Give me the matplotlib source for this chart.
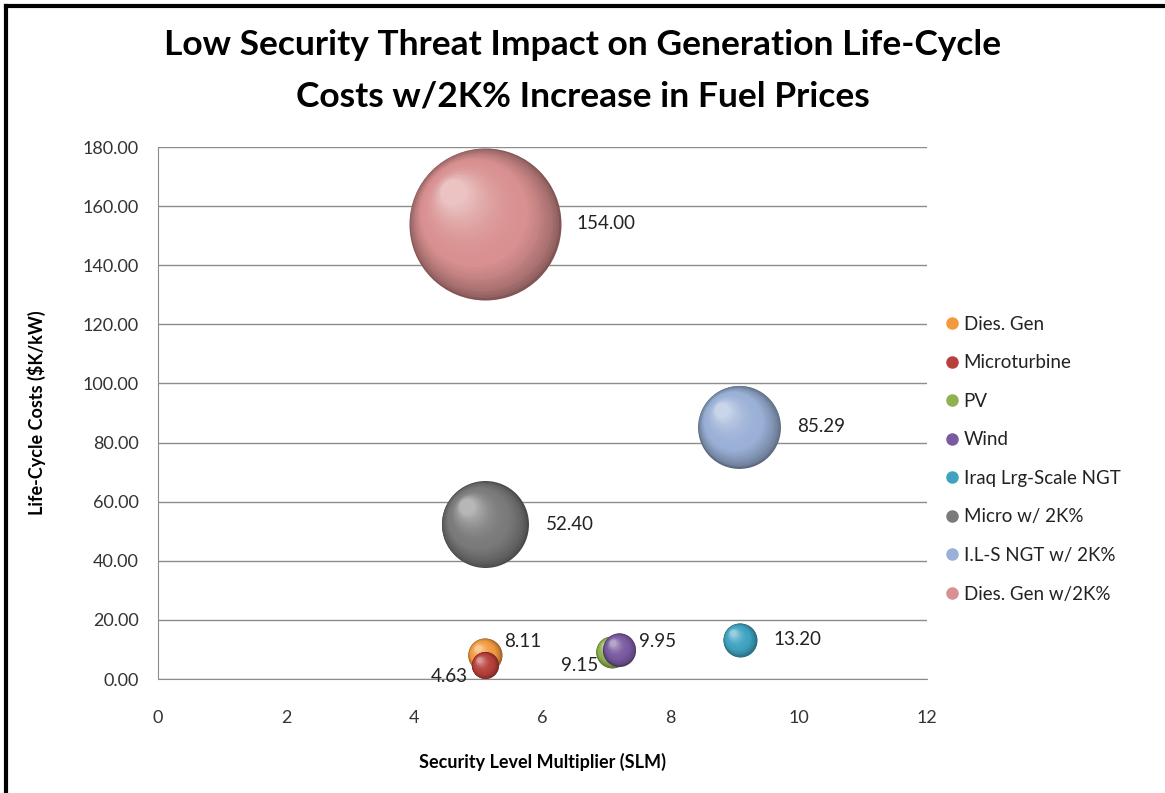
import numpy as np
import matplotlib.pyplot as plt
from matplotlib.lines import Line2D
from matplotlib.transforms import ScaledTranslation
from matplotlib.colors import to_rgb

plt.rcParams['font.family'] = ['Lato', 'DejaVu Sans']

# data
names = ['Dies. Gen', 'Microturbine', 'PV', 'Wind', 'Iraq Lrg-Scale NGT',
         'Micro w/ 2K%', 'I.L-S NGT w/ 2K%', 'Dies. Gen w/2K%']
slm = [5.1, 5.1, 7.08, 7.2, 9.08, 5.1, 9.07, 5.1]
cost = [8.11, 4.63, 9.15, 9.95, 13.20, 52.40, 85.29, 154.00]
bubble = [7.7, 4.9, 6.8, 7.3, 7.7, 50.4, 45.8, 154.0]
colors = ['#F39A3E', '#B8403C', '#8FB150', '#7A5AA0', '#3FA3C0',
          '#7A7A7A', '#9AB0D6', '#D99090']
yticks = [0, 20, 40, 60, 80, 100, 120, 140, 160, 180]
xticks = [0, 2, 4, 6, 8, 10, 12]

# label offsets (points) for each value label
lab_off = [(14, 10), (-12, -8), (-10, -10), (14, 6), (24, 0), (44, 0), (42, 0), (66, 0)]
lab_ha = ['left', 'right', 'right', 'left', 'left', 'left', 'left', 'left']

fig = plt.figure(figsize=(11.65, 7.93), dpi=100)
ax = fig.add_axes([158 / 1165, 1 - 679 / 793, 769 / 1165, 532 / 793])

scale = 77.8
n = 40
for i in range(len(names)):
    base = np.array(to_rgb(colors[i]))
    dark = base * 0.6
    light = base + (1 - base) * 0.5
    r_pt = np.sqrt(bubble[i] * scale) / 2
    for k in range(n):
        t = k / n
        frac = 1 - 0.85 * t
        if t < 0.35:
            c = dark + (base - dark) * (t / 0.35) ** 0.6
        else:
            c = base + (light - base) * ((t - 0.35) / 0.65) ** 2
        dx = -(1 - frac) * r_pt * 0.5 / 72
        dy = (1 - frac) * r_pt * 0.5 / 72
        tr = ax.transData + ScaledTranslation(dx, dy, fig.dpi_scale_trans)
        ax.scatter(slm[i], cost[i], s=bubble[i] * scale * frac ** 2,
                   color=np.clip(c, 0, 1), transform=tr, zorder=3 + i,
                   linewidths=0)
    ax.annotate('%.2f' % cost[i], (slm[i], cost[i]), xytext=lab_off[i],
                textcoords='offset points', ha=lab_ha[i], va='center',
                fontsize=13.5, color='#222222', zorder=20)

ax.set_xlim(0, 12)
ax.set_ylim(0, 180)
ax.set_xticks(xticks)
ax.set_yticks(yticks)
ax.set_yticklabels(['%.2f' % v for v in yticks])
ax.tick_params(length=0, labelsize=13, colors='#333333', pad=14)
ax.tick_params(axis='x', pad=22)
ax.grid(axis='y', color='#8C8C8C', linewidth=1)
ax.set_axisbelow(True)
for s in ['top', 'right']:
    ax.spines[s].set_visible(False)
ax.spines['left'].set_color('#8C8C8C')
ax.spines['bottom'].set_color('#8C8C8C')

ax.set_xlabel('Security Level Multiplier (SLM)', fontsize=13, fontweight='bold',
              labelpad=20)
ax.set_ylabel('Life-Cycle Costs ($K/kW)', fontsize=13, fontweight='bold',
              labelpad=26)

fig.text(0.5, 0.943, 'Low Security Threat Impact on Generation Life-Cycle',
         ha='center', va='center', fontsize=25.5, fontweight='bold')
fig.text(0.5, 0.878, 'Costs w/2K% Increase in Fuel Prices',
         ha='center', va='center', fontsize=25.5, fontweight='bold')

handles = [Line2D([], [], marker='o', linestyle='', markersize=8,
                  markerfacecolor=c, markeredgecolor=c) for c in colors]
fig.legend(handles, names, loc='center left', bbox_to_anchor=(0.795, 0.421),
           frameon=False, fontsize=13.5, labelspacing=1.15, handletextpad=0.1,
           handlelength=1.0, labelcolor='#222222')

# outer frame (top and left only)
fig.add_artist(Line2D([6 / 1165, 6 / 1165], [0, 1 - 6 / 793], color='black',
                      linewidth=3, transform=fig.transFigure))
fig.add_artist(Line2D([6 / 1165, 1], [1 - 6 / 793, 1 - 6 / 793], color='black',
                      linewidth=3, transform=fig.transFigure))

fig.savefig('out.png', dpi=100)
